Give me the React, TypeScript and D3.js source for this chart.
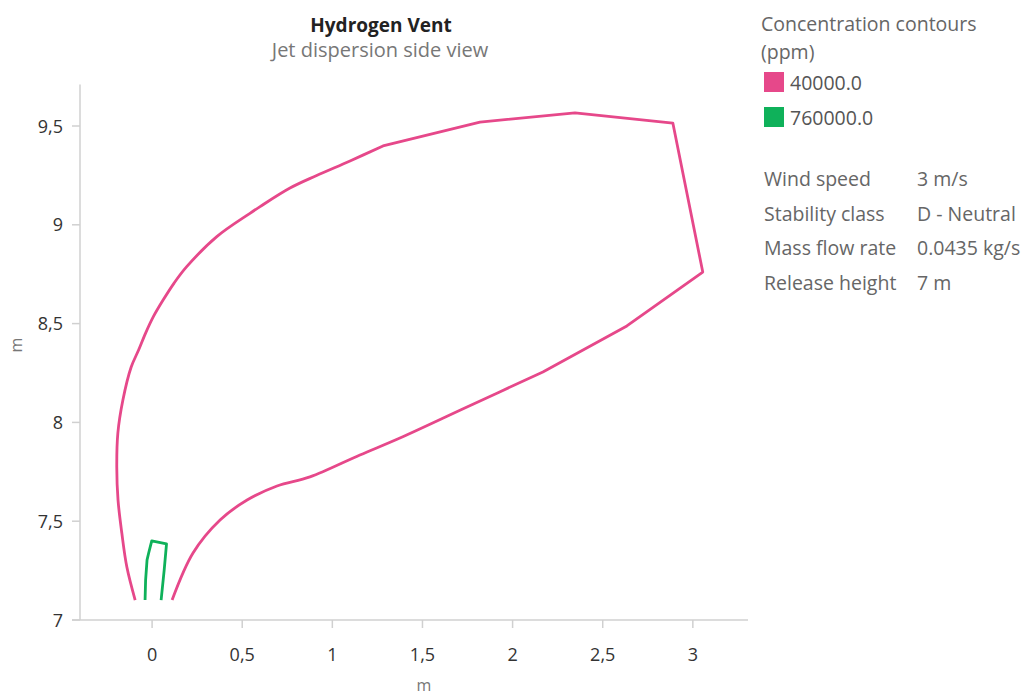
import React from "react";
import * as d3 from "d3";

// Contour 40000 ppm (x in m, z in m)
const pinkX = [-0.094, -0.14, -0.168, -0.189, -0.196, -0.19, -0.162, -0.116, -0.0749, -0.036, 0.007, 0.061, 0.122, 0.192, 0.359, 0.543, 0.599, 0.765, 0.913, 1.098, 1.281, 1.819, 2.346, 2.889, 3.055, 2.634, 2.168, 1.747, 1.375, 1.153, 0.876, 0.693, 0.527, 0.377, 0.227, 0.111];
const pinkY = [7.101, 7.268, 7.44, 7.607, 7.774, 7.946, 8.113, 8.28, 8.366, 8.452, 8.535, 8.619, 8.705, 8.788, 8.94, 9.058, 9.092, 9.186, 9.2495, 9.323, 9.399, 9.52, 9.566, 9.515, 8.761, 8.488, 8.255, 8.078, 7.921, 7.835, 7.724, 7.678, 7.607, 7.506, 7.339, 7.101];

// Contour 760000 ppm
const greenX = [-0.039, -0.036, -0.028, -0.019, -0.002, 0.08, 0.067, 0.05];
const greenY = [7.101, 7.202, 7.304, 7.339, 7.4, 7.385, 7.253, 7.101];

const xTicks = [0, 0.5, 1, 1.5, 2, 2.5, 3];
const yTicks = [7, 7.5, 8, 8.5, 9, 9.5];

const legendLabels = ["40000.0", "760000.0"];
const legendColors = ["#e6488a", "#0fb15a"];

const infoLabels = ["Wind speed", "Stability class", "Mass flow rate", "Release height"];
const infoValues = ["3 m/s", "D - Neutral", "0.0435 kg/s", "7 m"];

const fmt = (v: number) => String(v).replace(".", ",");

export default function App() {
  const W = 1028, H = 694;
  const left = 80, right = 748, bottom = 620;
  const x = d3.scaleLinear().domain([-0.4, 3.306]).range([left, right]);
  const y = d3.scaleLinear().domain([7, 9.71]).range([bottom, bottom - 2.71 * 197.6]);
  const smooth = d3.line<[number, number]>().x(d => x(d[0])).y(d => y(d[1])).curve(d3.curveCatmullRom.alpha(0.5));
  const straight = d3.line<[number, number]>().x(d => x(d[0])).y(d => y(d[1]));
  const pink = pinkX.map((v, i) => [v, pinkY[i]] as [number, number]);
  const green = greenX.map((v, i) => [v, greenY[i]] as [number, number]);
  // smooth left arc, straight outer corners, smooth lower edge
  const k1 = 20, k2 = 26;
  const p1 = smooth(pink.slice(0, k1 + 1)) || "";
  const p2 = (straight(pink.slice(k1, k2 + 1)) || "").replace(/^M/, "L");
  const p3 = (smooth(pink.slice(k2)) || "").replace(/^M[^CL]*/, "");
  const pinkPath = p1 + p2 + p3;
  const font = "'Open Sans', 'Noto Sans', sans-serif";
  const axisColor = "#d0d0d0";
  const top = y(9.71);
  return (
    <svg width={W} height={H} style={{ position: "absolute", left: 0, top: 0, fontFamily: font }}>
      <rect width={W} height={H} fill="#fff" />
      <text x={381} y={32} textAnchor="middle" fontSize={19} fontWeight={700} fill="#222">Hydrogen Vent</text>
      <text x={380} y={57} textAnchor="middle" fontSize={20} fill="#777">Jet dispersion side view</text>

      {/* axes */}
      <line x1={left} x2={left} y1={top} y2={bottom} stroke={axisColor} strokeWidth={1.5} />
      <line x1={left - 8} x2={right} y1={bottom} y2={bottom} stroke={axisColor} strokeWidth={1.5} />
      {yTicks.map(t => (
        <g key={"y" + t}>
          <line x1={left - 8} x2={left} y1={y(t)} y2={y(t)} stroke={axisColor} strokeWidth={1.5} />
          <text x={63} y={y(t) + 6.5} textAnchor="end" fontSize={18} fill="#333">{fmt(t)}</text>
        </g>
      ))}
      {xTicks.map(t => (
        <g key={"x" + t}>
          <line x1={x(t)} x2={x(t)} y1={bottom} y2={bottom + 8} stroke={axisColor} strokeWidth={1.5} />
          <text x={x(t)} y={661} textAnchor="middle" fontSize={18} fill="#333">{fmt(t)}</text>
        </g>
      ))}
      <text x={424} y={691} textAnchor="middle" fontSize={16} fill="#777">m</text>
      <text transform={`translate(22,345) rotate(-90)`} textAnchor="middle" fontSize={16} fill="#777">m</text>

      {/* contours */}
      <path d={pinkPath} fill="none" stroke={legendColors[0]} strokeWidth={2.8} strokeLinejoin="round" />
      <path d={straight(green) || ""} fill="none" stroke={legendColors[1]} strokeWidth={2.8} strokeLinejoin="round" />

      {/* legend */}
      <text x={761} y={31} fontSize={19.5} fill="#666">Concentration contours</text>
      <text x={761} y={59} fontSize={19.5} fill="#666">(ppm)</text>
      {legendLabels.map((l, i) => (
        <g key={l}>
          <rect x={764} y={72 + i * 35} width={20} height={20} fill={legendColors[i]} />
          <text x={790} y={90 + i * 35} fontSize={19.5} fill="#555">{l}</text>
        </g>
      ))}
      {infoLabels.map((l, i) => (
        <g key={l}>
          <text x={764} y={186 + i * 34.7} fontSize={19.5} fill="#666">{l}</text>
          <text x={917} y={186 + i * 34.7} fontSize={19.5} fill="#666">{infoValues[i]}</text>
        </g>
      ))}
    </svg>
  );
}
